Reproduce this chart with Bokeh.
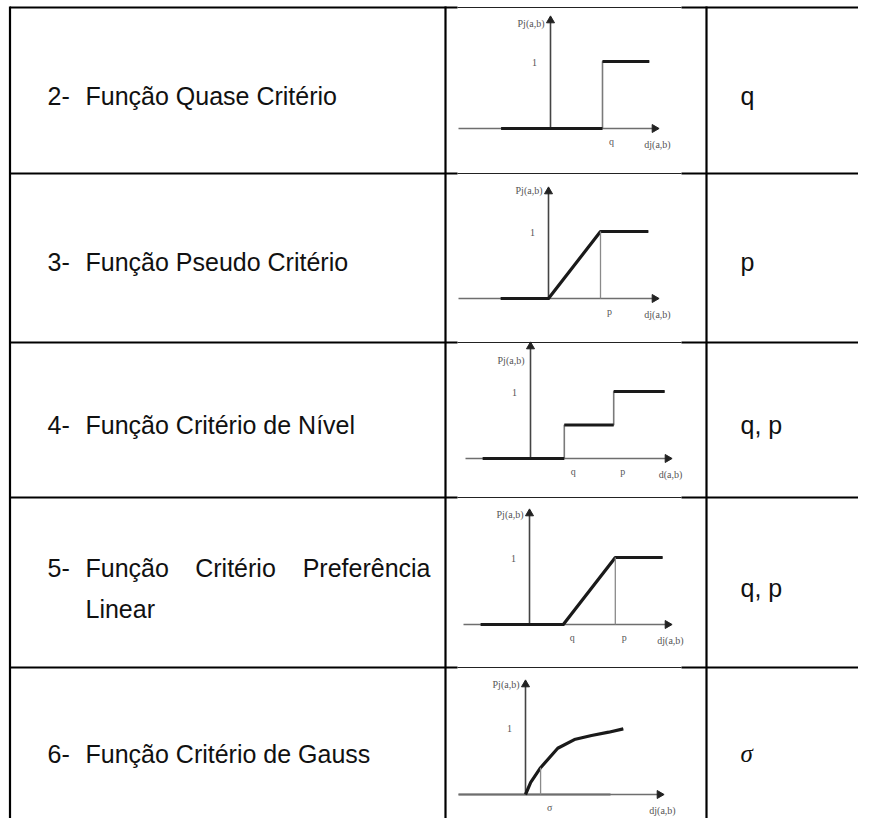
import math
from bokeh.plotting import figure
from bokeh.models import Range1d
from bokeh.embed import file_html
from bokeh.resources import INLINE
from bokeh.core.properties import value

# ---------------- data ----------------
row_numbers = ["2-", "3-", "4-", "5-", "6-"]
row_names = ["Função Quase Critério", "Função Pseudo Critério",
             "Função Critério de Nível", "Função Critério Preferência Linear",
             "Função Critério de Gauss"]
parameters = ["q", "p", "q, p", "q, p", "σ"]

# preference functions P(d) sketched in each cell (d in sketch units)
quasi_d = [-0.95, 1.0, 1.0, 1.9]
quasi_P = [0, 0, 1, 1]
pseudo_d = [-0.92, 0.0, 1.0, 1.92]
pseudo_P = [0, 0, 1, 1]
level_d = [-0.92, 0.65, 0.65, 1.6, 1.6, 2.58]
level_P = [0, 0, 0.5, 0.5, 1, 1]
linear_d = [-0.94, 0.65, 1.65, 2.56]
linear_P = [0, 0, 1, 1]
gauss_d = [0, 0.1, 0.29, 0.62, 0.94, 1.27, 1.6, 1.88]
gauss_P = [0, 0.18, 0.40, 0.69, 0.82, 0.88, 0.93, 0.98]

thresholds = [[("q", 1.0)], [("p", 1.0)], [("q", 0.65), ("p", 1.6)],
              [("q", 0.65), ("p", 1.65)], [("σ", 0.29)]]
guide = [None, (1.0, 1.0), None, (1.65, 1.0), (0.29, 0.40)]
x_labels = ["dj(a,b)", "dj(a,b)", "d(a,b)", "dj(a,b)", "dj(a,b)"]
y_label = "Pj(a,b)"

functions = [(quasi_d, quasi_P), (pseudo_d, pseudo_P), (level_d, level_P),
             (linear_d, linear_P), (gauss_d, gauss_P)]

# ---------------- layout (image pixels) ----------------
W, H = 858, 818
col_x = [9.5, 445, 706]
row_y = [7, 173, 342, 497, 667]
img_x0, img_x1 = 457, 681
charts = [
    dict(ox=550, oy=128, left=458, right=657, top=17, ly=6),
    dict(ox=548, oy=298, left=458, right=657, top=188, ly=2),
    dict(ox=530, oy=458, left=465, right=670, top=343, ly=17),
    dict(ox=529, oy=624, left=463, right=670, top=510, ly=4),
    dict(ox=525, oy=794, left=458, right=662, top=681, ly=3),
]
SX, SY = 52.0, 67.0
text_rows = [[95], [261], [424], [567, 608], [753]]
FS = "25px"

p = figure(width=W, height=H, output_backend="svg", toolbar_location=None,
           x_range=Range1d(0, W), y_range=Range1d(H, 0),
           min_border=0, outline_line_color=None)
p.axis.visible = False
p.grid.visible = False
p.background_fill_color = "white"

# ---------- table lines ----------
for x in col_x:
    p.line([x, x], [row_y[0] - 1, H], line_color="black", line_width=2.2)
for y in row_y:
    p.line([col_x[0], img_x0], [y, y], line_color="black", line_width=2.2)
    p.line([img_x1, W], [y, y], line_color="black", line_width=2.2)
    p.line([img_x0, img_x1], [y, y], line_color="#222222", line_width=1)

# ---------- left column and parameter text ----------
font = value("Liberation Sans")
kw = dict(text_font=font, text_font_size=FS, text_baseline="middle", text_color="#111111")
for i in range(5):
    ys = text_rows[i]
    p.text([47], [ys[0]], text=[row_numbers[i]], **kw)
    if len(ys) == 1:
        p.text([85], [ys[0]], text=[row_names[i]], **kw)
    else:
        words = row_names[i].split(" ")
        p.text([85], [ys[0]], text=[words[0]], **kw)
        p.text([235], [ys[0]], text=[words[1]], text_align="center", **kw)
        p.text([430], [ys[0]], text=[words[2]], text_align="right", **kw)
        p.text([85], [ys[1]], text=[" ".join(words[3:])], **kw)
    mid = sum(ys) / len(ys)
    if parameters[i] == "σ":
        p.text([740], [mid], text=[parameters[i]], text_font=value("Liberation Serif"),
               text_font_style="italic", text_font_size=FS, text_baseline="middle",
               text_color="#111111")
    else:
        p.text([740], [mid], text=[parameters[i]], **kw)

# ---------- mini charts ----------
lab_font = value("Liberation Serif")
lkw = dict(text_font=lab_font, text_font_size="10px", text_baseline="middle",
           text_color="#555555")
for i, c in enumerate(charts):
    ox, oy = c["ox"], c["oy"]
    X = lambda d: ox + SX * d
    Y = lambda P: oy - SY * P
    if i == 4:
        p.line([c["left"], ox + 85], [oy, oy], line_color="#9a9a9a", line_width=2.6)
    p.line([c["left"], c["right"] - 4], [oy, oy], line_color="#6e6e6e", line_width=1.6)
    p.line([ox, ox], [oy, c["top"] + 4], line_color="#444444", line_width=1.6)
    p.scatter([c["right"] - 3], [oy], marker="triangle", size=8, angle=-math.pi / 2,
              fill_color="#222222", line_color="#222222")
    p.scatter([ox], [c["top"] + 3], marker="triangle", size=8, angle=0,
              fill_color="#222222", line_color="#222222")
    d, P = functions[i]
    xs = [X(v) for v in d]
    ys = [Y(v) for v in P]
    p.line(xs, ys, line_color="#7a7a7a", line_width=1.6)
    tx, ty = [xs[0]], [ys[0]]
    for k in range(1, len(xs)):
        if xs[k] == xs[k - 1]:
            tx += [float("nan"), xs[k]]
            ty += [float("nan"), ys[k]]
        else:
            tx.append(xs[k])
            ty.append(ys[k])
    p.line(tx, ty, line_color="#1a1a1a", line_width=3.2, line_join="round")
    if guide[i] is not None:
        gd, gp = guide[i]
        p.line([X(gd), X(gd)], [oy, Y(gp)], line_color="#8a8a8a", line_width=1.3)
    p.text([ox - 6], [c["top"] + c["ly"]], text=[y_label], text_align="right", **lkw)
    p.text([ox - 16], [Y(1.0) + 1], text=["1"], text_align="center", **lkw)
    for lab, dv in thresholds[i]:
        p.text([X(dv) + 9], [oy + 13], text=[lab], text_align="center", **lkw)
    p.text([c["right"]], [oy + 16], text=[x_labels[i]], text_align="center", **lkw)

open("out.html", "w").write(file_html(p, INLINE))
